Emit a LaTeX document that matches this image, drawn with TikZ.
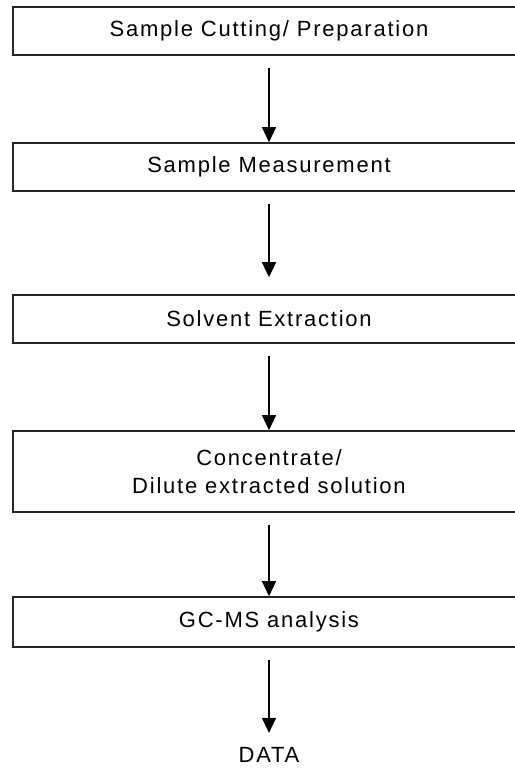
\documentclass[tikz,border=0pt]{standalone}
\usepackage{fontspec}
\setmainfont{Liberation Sans}[LetterSpace=8]
\usetikzlibrary{arrows.meta}
\begin{document}
\begin{tikzpicture}[x=1pt, y=-1pt,
  every node/.style={font=\fontsize{22}{28}\selectfont},
  stepbox/.style={draw=black!85, line width=1.6pt, minimum width=512pt, minimum height=48pt, align=center, inner sep=0pt},
  flow/.style={line width=1.3pt, -{Triangle[length=15pt,width=14pt]}, shorten <=12pt}]
  \useasboundingbox[fill=white] (0,0) rectangle (514,770);
  % process steps
  \node[stepbox] (cut)  at (269, 31)  {Sample Cutting/ Preparation};
  \node[stepbox] (meas) at (269, 167) {Sample Measurement};
  \node[stepbox] (ext)  at (269, 319) {Solvent Extraction};
  \node[stepbox, minimum height=81pt] (conc) at (269, 471.5) {Concentrate/\\Dilute extracted solution};
  \node[stepbox, minimum height=50pt] (gcms) at (269, 622) {GC-MS analysis};
  \node (data) at (269, 755) {DATA};
  % arrows
  \draw[flow] (cut) -- (meas);
  \draw[flow, shorten >=17pt] (meas) -- (ext);
  \draw[flow] (ext) -- (conc);
  \draw[flow] (conc) -- (gcms);
  \draw[flow, shorten >=11pt] (gcms) -- (data);
\end{tikzpicture}
\end{document}
